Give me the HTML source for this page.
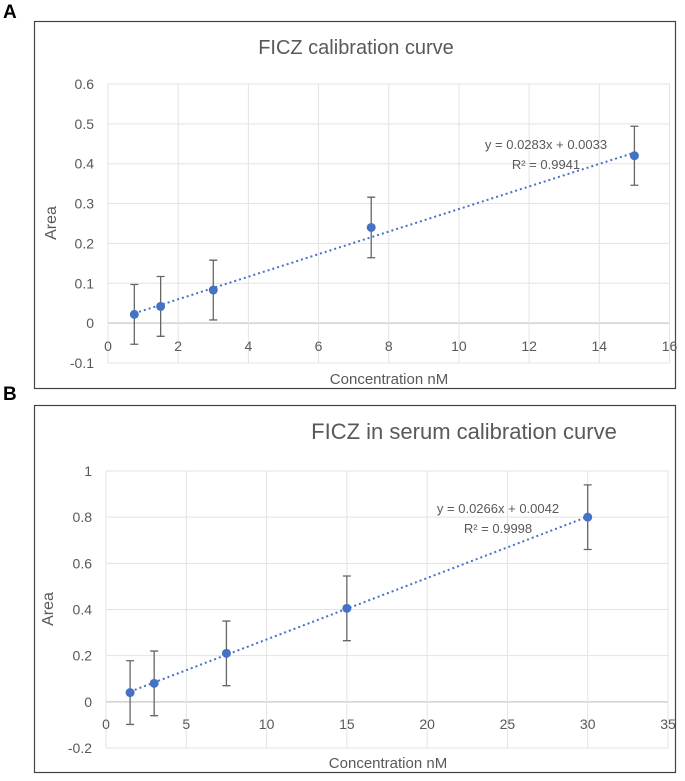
<!DOCTYPE html>
<html><head><meta charset="utf-8"><style>
html,body{margin:0;padding:0;background:#fff;width:685px;height:781px;overflow:hidden}
svg{display:block}
text{font-family:"Liberation Sans",sans-serif}
</style></head><body>
<svg id="s" width="685" height="781" xmlns="http://www.w3.org/2000/svg">
<text x="3" y="18" font-size="19" font-weight="bold" fill="#000">A</text>
<rect x="34.5" y="21.5" width="641" height="367" fill="#fff" stroke="#444" stroke-width="1.2"/>
<text x="356" y="54" font-size="20" text-anchor="middle" fill="#595959">FICZ calibration curve</text>
<g id="ga"></g>
<text x="3" y="400" font-size="19" font-weight="bold" fill="#000">B</text>
<rect x="34.5" y="405.5" width="641" height="367" fill="#fff" stroke="#444" stroke-width="1.2"/>
<text x="464" y="439" font-size="22" text-anchor="middle" fill="#595959">FICZ in serum calibration curve</text>
<g id="gb"></g>
</svg>
<script>
const aX = [0.75, 1.5, 3, 7.5, 15];
const aY = [0.022, 0.042, 0.083, 0.24, 0.42];
const aErr = [0.075, 0.075, 0.075, 0.076, 0.074];
const aXTicks = [0, 2, 4, 6, 8, 10, 12, 14, 16];
const aYTicks = [-0.1, 0, 0.1, 0.2, 0.3, 0.4, 0.5, 0.6];
const aFit = [0.0283, 0.0033];
const aEq = ["y = 0.0283x + 0.0033", "R² = 0.9941"];

const bX = [1.5, 3, 7.5, 15, 30];
const bY = [0.04, 0.08, 0.21, 0.405, 0.80];
const bErr = [0.138, 0.14, 0.14, 0.14, 0.14];
const bXTicks = [0, 5, 10, 15, 20, 25, 30, 35];
const bYTicks = [-0.2, 0, 0.2, 0.4, 0.6, 0.8, 1];
const bFit = [0.0266, 0.0042];
const bEq = ["y = 0.0266x + 0.0042", "R² = 0.9998"];

const NS = "http://www.w3.org/2000/svg";
function mk(g, tag, attrs, txt){
  const e = document.createElementNS(NS, tag);
  for (const k in attrs) e.setAttribute(k, attrs[k]);
  if (txt !== undefined) e.textContent = txt;
  g.appendChild(e); return e;
}
function draw(g, cfg){
  const sx = v => cfg.x0 + (v - cfg.xmin) / (cfg.xmax - cfg.xmin) * (cfg.x1 - cfg.x0);
  const sy = v => cfg.y0 + (v - cfg.ymin) / (cfg.ymax - cfg.ymin) * (cfg.y1 - cfg.y0);
  cfg.yt.forEach(t => {
    const l = mk(g, "line", {x1: cfg.x0, x2: cfg.x1, y1: sy(t), y2: sy(t), stroke: t === 0 ? "#d0d0d0" : "#e3e3e3", "stroke-width": t === 0 ? 1.5 : 1});
    
    
    const tx = mk(g, "text", {x: cfg.x0 - 14, y: sy(t) + 5, "text-anchor": "end", "font-size": 14, fill: "#595959"}, String(t));
    
    
  });
  cfg.xt.forEach(t => {
    const l = mk(g, "line", {x1: sx(t), x2: sx(t), y1: sy(cfg.ymin), y2: sy(cfg.ymax), stroke: "#e3e3e3", "stroke-width": 1});
    
    
    const tx = mk(g, "text", {x: sx(t), y: cfg.xly, "text-anchor": "middle", "font-size": 14, fill: "#595959"}, String(t));
    
    
  });
  const xa = cfg.xs[0], xb = cfg.xs[cfg.xs.length - 1];
  const tl = mk(g, "line", {x1: sx(xa), y1: sy(cfg.fit[0]*xa + cfg.fit[1]), x2: sx(xb), y2: sy(cfg.fit[0]*xb + cfg.fit[1]), stroke: "#4472c4", "stroke-width": 2, "stroke-dasharray": "2 3"});
  
  
  cfg.xs.forEach((v, i) => {
    const x = sx(v), top = sy(cfg.ys[i] + cfg.err[i]), bot = sy(cfg.ys[i] - cfg.err[i]);
    const eb = mk(g, "path", {d: `M${x},${top}V${bot}M${x-4},${top}H${x+4}M${x-4},${bot}H${x+4}`, stroke: "#666", "stroke-width": 1.3, fill: "none"});
    
    
    const c = mk(g, "circle", {cx: x, cy: sy(cfg.ys[i]), r: 4.5, fill: "#4472c4"});
    
    
  });
  const e1 = mk(g, "text", {x: cfg.eqx, y: cfg.eqy, "text-anchor": "middle", "font-size": 13, fill: "#595959"}, cfg.eq[0]);
  
  
  const e2 = mk(g, "text", {x: cfg.eqx, y: cfg.eqy + 20, "text-anchor": "middle", "font-size": 13, fill: "#595959"}, cfg.eq[1]);
  
  
  const xt = mk(g, "text", {x: cfg.xtx, y: cfg.xty, "text-anchor": "middle", "font-size": 15, fill: "#595959"}, "Concentration nM");
  
  
  const yt = mk(g, "text", {x: 0, y: 0, "text-anchor": "middle", "font-size": 16, fill: "#595959", transform: `translate(${cfg.ytx},${cfg.yty}) rotate(-90)`}, "Area");
  
  
}
draw(document.getElementById("ga"), {x0:108, x1:669.5, xmin:0, xmax:16, y0:363, y1:84, ymin:-0.1, ymax:0.6,
  xt:aXTicks, yt:aYTicks, xs:aX, ys:aY, err:aErr, fit:aFit, eq:aEq, xly:351, eqx:546, eqy:149, xtx:389, xty:384, ytx:56, yty:223});
draw(document.getElementById("gb"), {x0:106, x1:668, xmin:0, xmax:35, y0:748, y1:471, ymin:-0.2, ymax:1,
  xt:bXTicks, yt:bYTicks, xs:bX, ys:bY, err:bErr, fit:bFit, eq:bEq, xly:729, eqx:498, eqy:513, xtx:388, xty:768, ytx:53, yty:609});
</script>
</body></html>
